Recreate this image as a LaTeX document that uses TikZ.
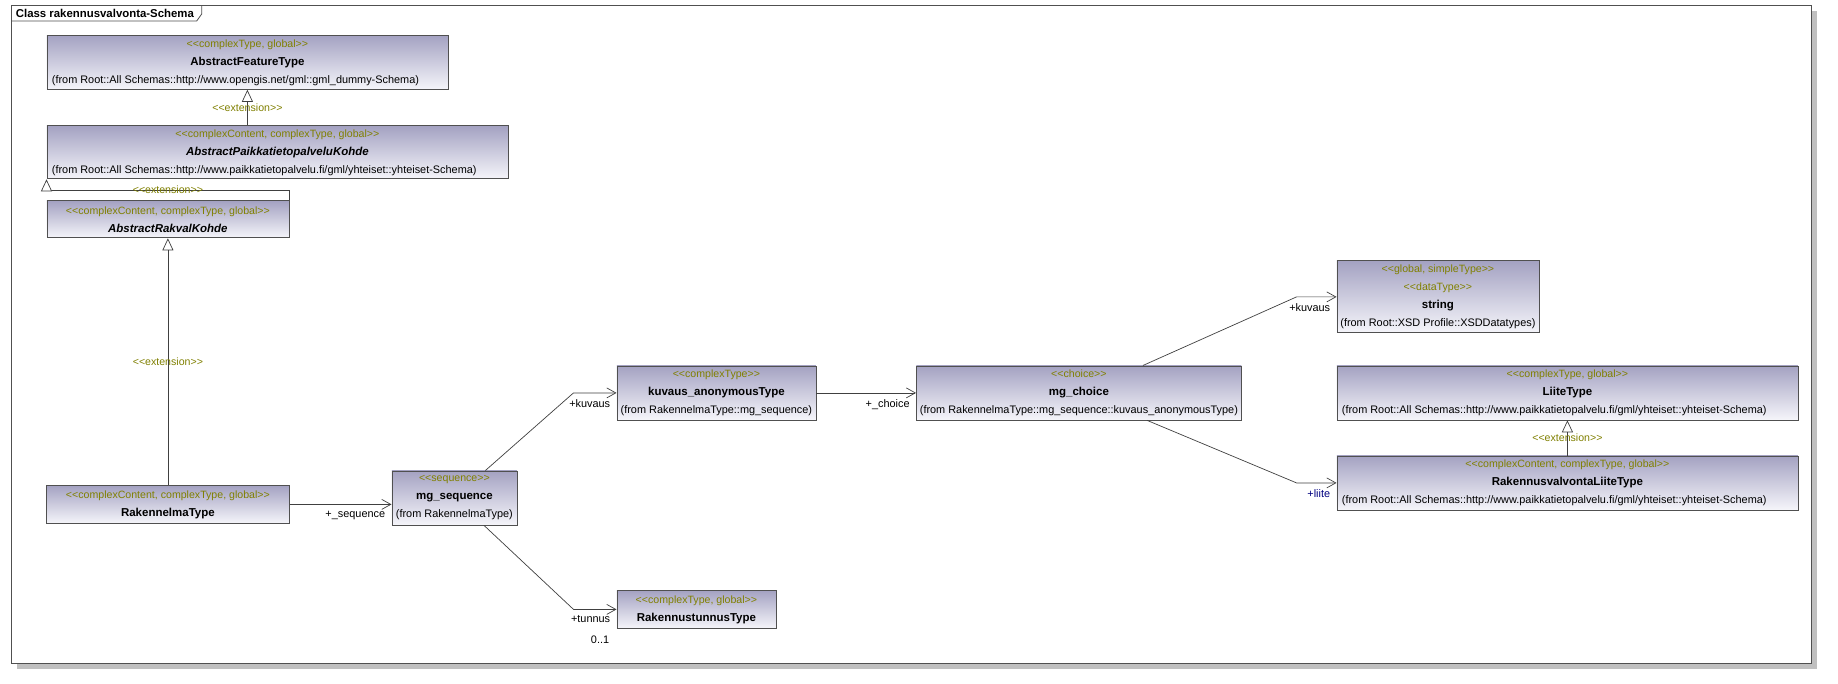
\documentclass[tikz,border=0pt]{standalone}
\usepackage{fontspec}
\setmainfont{Liberation Sans}
\usepackage{tikz}
\usetikzlibrary{positioning, arrows.meta, calc}
\definecolor{boxtop}{RGB}{164,162,194}
\definecolor{boxbot}{RGB}{245,245,250}
\definecolor{boxline}{RGB}{80,80,80}
\definecolor{stereoc}{RGB}{128,128,0}
\definecolor{edgec}{RGB}{64,64,64}
\definecolor{shadowc}{RGB}{192,192,192}
\definecolor{rolenavy}{RGB}{0,0,128}
\newcommand{\ster}[1]{<\kern0pt<#1>\kern0pt>}
\newcommand{\stereo}[1]{{\color{stereoc}\fontsize{10.6}{18}\selectfont\ster{#1}}}
\newcommand{\cname}[1]{{\fontsize{11.5}{18}\selectfont\bfseries #1}}
\newcommand{\fromln}[2]{\makebox[#1][l]{\hspace{5pt}#2}}

\begin{document}
\begin{tikzpicture}[
            x=1pt, y=-1pt,
            umlbox/.style={draw=boxline, line width=0.8pt, top color=boxtop, bottom color=boxbot,
                           anchor=north west, inner sep=0pt, align=center,
                           font=\fontsize{10.9}{18}\selectfont},
            assoc/.style={-{Straight Barb[length=9pt, width=10pt]}, edgec, line width=0.7pt},
            gen/.style={-{Triangle[open, length=12pt, width=11pt, fill=white]}, edgec, line width=0.7pt},
            extlbl/.style={inner sep=0pt, text=stereoc, font=\fontsize{10.6}{12}\selectfont},
            role/.style={anchor=north east, inner sep=0pt, xshift=-6pt, yshift=-6pt, text=black,
                         font=\fontsize{10.9}{12}\selectfont}
        ]
            \useasboundingbox (0,0) rectangle (1838,684);
            % frame
            \fill[shadowc] (17,11) rectangle (1817,669);
            \draw[boxline, fill=white, line width=0.8pt] (11.8,5.3) rectangle (1811.8,663.3);
            \draw[boxline, line width=0.8pt] (11.8,21) -- (196.7,21) -- (201.7,14) -- (201.7,5.3);
            \node[anchor=west, inner sep=0pt, font=\fontsize{11.4}{12}\selectfont\bfseries] (title) at (15.7,13.3) {Class rakennusvalvonta-Schema};

            % classes
            \node[umlbox, minimum width=401pt, minimum height=54pt] (aft) at (46.5,35)
                {\stereo{complexType, global}\\ \cname{AbstractFeatureType}\\
                 \fromln{401pt}{(from Root::All Schemas::http://www.opengis.net/gml::gml\_dummy-Schema)}};
            \node[umlbox, minimum width=461pt, minimum height=53pt] (pk) at (46.5,125.5)
                {\stereo{complexContent, complexType, global}\\ \cname{\itshape AbstractPaikkatietopalveluKohde}\\
                 \fromln{461pt}{(from Root::All Schemas::http://www.paikkatietopalvelu.fi/gml/yhteiset::yhteiset-Schema)}};
            \node[umlbox, minimum width=242pt, minimum height=37pt] (ark) at (46.5,200.5)
                {\stereo{complexContent, complexType, global}\\ \cname{\itshape AbstractRakvalKohde}};
            \node[umlbox, minimum width=243pt, minimum height=38pt] (rt) at (46,485)
                {\stereo{complexContent, complexType, global}\\ \cname{RakennelmaType}};
            \node[umlbox, minimum width=125pt, minimum height=54pt] (ms) at (391.5,470.5)
                {\stereo{sequence}\\ \cname{mg\_sequence}\\ (from RakennelmaType)};
            \node[umlbox, minimum width=199pt, minimum height=54pt] (kat) at (616.5,365.5)
                {\stereo{complexType}\\ \cname{kuvaus\_anonymousType}\\ (from RakennelmaType::mg\_sequence)};
            \node[umlbox, minimum width=159pt, minimum height=38pt] (rtt) at (616.5,590)
                {\stereo{complexType, global}\\ \cname{RakennustunnusType}};
            \node[umlbox, minimum width=325pt, minimum height=54pt] (mc) at (916,365.5)
                {\stereo{choice}\\ \cname{mg\_choice}\\ (from RakennelmaType::mg\_sequence::kuvaus\_anonymousType)};
            \node[umlbox, minimum width=202pt, minimum height=72pt] (str) at (1336.5,260.5)
                {\stereo{global, simpleType}\\ \stereo{dataType}\\ \cname{string}\\ (from Root::XSD Profile::XSDDatatypes)};
            \node[umlbox, minimum width=461pt, minimum height=54pt] (lt) at (1336.5,365.5)
                {\stereo{complexType, global}\\ \cname{LiiteType}\\
                 \fromln{461pt}{(from Root::All Schemas::http://www.paikkatietopalvelu.fi/gml/yhteiset::yhteiset-Schema)}};
            \node[umlbox, minimum width=461pt, minimum height=54pt] (rvlt) at (1336.5,455.5)
                {\stereo{complexContent, complexType, global}\\ \cname{RakennusvalvontaLiiteType}\\
                 \fromln{461pt}{(from Root::All Schemas::http://www.paikkatietopalvelu.fi/gml/yhteiset::yhteiset-Schema)}};

            % generalisations
            \draw[gen] (pk.north -| aft.south) -- (aft.south) node[midway, extlbl] {\ster{extension}};
            \draw[gen] (ark.north east) -- ++(0,-10.5) -| (pk.south west) node[pos=0.25, extlbl] {\ster{extension}};
            \draw[gen] (rt.north -| ark.south) -- (ark.south) node[midway, extlbl] {\ster{extension}};
            \draw[gen] (rvlt.north -| lt.south) -- (lt.south) node[midway, extlbl] {\ster{extension}};

            % associations
            \draw[assoc] (rt.east) -- (rt.east -| ms.west) node[role] {+\_sequence};
            \draw[assoc] ([xshift=31pt]ms.north) -- ([xshift=-43pt]kat.west) -- (kat.west) node[role] {+kuvaus};
            \draw[assoc] ([xshift=29.5pt]ms.south) -- ([xshift=-43pt]rtt.west) -- (rtt.west) node[role] {+tunnus}
                node[role, xshift=-1pt, yshift=-20pt] {0..1};
            \draw[assoc] (kat.east) -- (mc.west) node[role] {+\_choice};
            \draw[assoc] ([xshift=64pt]mc.north) -- ([xshift=-40pt]str.west) -- (str.west) node[role] {+kuvaus};
            \draw[assoc] ([xshift=68pt]mc.south) -- ([xshift=-40pt]rvlt.west) -- (rvlt.west) node[role, text=rolenavy] {+liite};
        \end{tikzpicture}
\end{document}
